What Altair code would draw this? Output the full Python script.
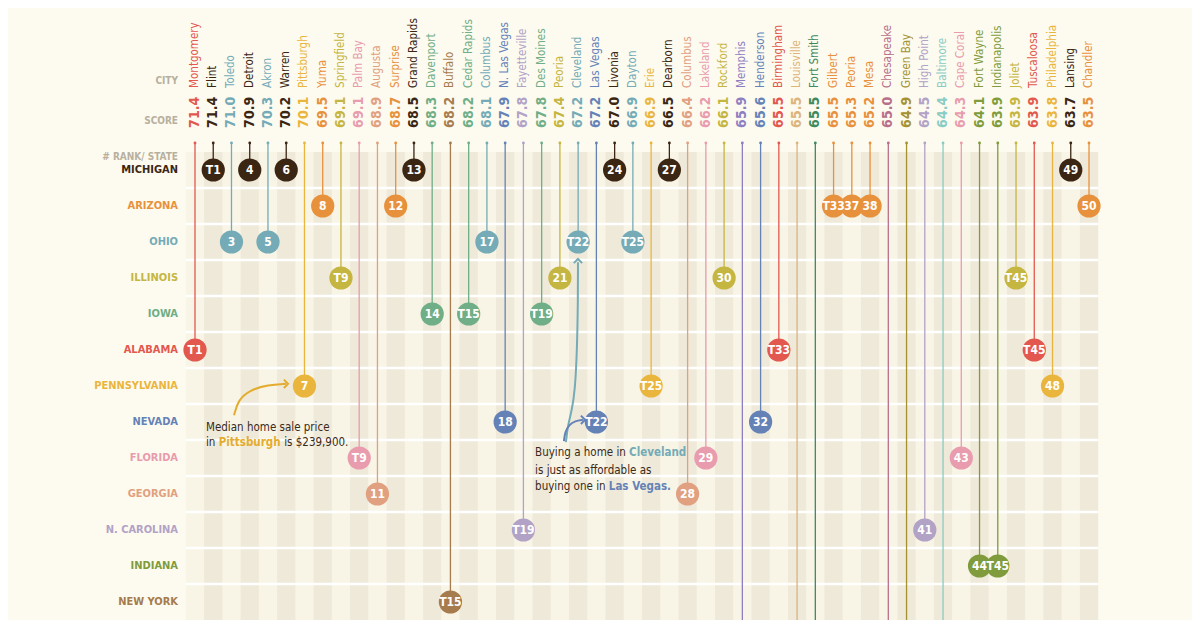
import altair as alt
import pandas as pd

# ---------------- data ----------------
cities = ["Montgomery","Flint","Toledo","Detroit","Akron","Warren","Pittsburgh","Yuma","Springfield","Palm Bay",
          "Augusta","Surprise","Grand Rapids","Davenport","Buffalo","Cedar Rapids","Columbus","N. Las Vegas","Fayetteville","Des Moines",
          "Peoria","Cleveland","Las Vegas","Livonia","Dayton","Erie","Dearborn","Columbus","Lakeland","Rockford",
          "Memphis","Henderson","Birmingham","Louisville","Fort Smith","Gilbert","Peoria","Mesa","Chesapeake","Green Bay",
          "High Point","Baltimore","Cape Coral","Fort Wayne","Indianapolis","Joliet","Tuscaloosa","Philadelphia","Lansing","Chandler"]
city_states = ["AL","MI","OH","MI","OH","MI","PA","AZ","IL","FL",
               "GA","AZ","MI","IA","NY","IA","OH","NV","NC","IA",
               "IL","OH","NV","MI","OH","PA","MI","GA","FL","IL",
               "TN","NV","AL","KY","AR","AZ","AZ","AZ","VA","WI",
               "NC","MD","FL","IN","IN","IL","AL","PA","MI","AZ"]
scores = [71.4,71.4,71.0,70.9,70.3,70.2,70.1,69.5,69.1,69.1,
          68.9,68.7,68.5,68.3,68.2,68.2,68.1,67.9,67.8,67.8,
          67.4,67.2,67.2,67.0,66.9,66.9,66.5,66.4,66.2,66.1,
          65.9,65.6,65.5,65.5,65.5,65.5,65.3,65.2,65.0,64.9,
          64.5,64.4,64.3,64.1,63.9,63.9,63.9,63.8,63.7,63.5]
ranks = ["T1","T1","3","4","5","6","7","8","T9","T9",
         "11","12","13","14","T15","T15","17","18","T19","T19",
         "21","T22","T22","24","T25","T25","27","28","29","30",
         "31","32","T33","T33","T33","T33","37","38","39","40",
         "41","42","43","44","T45","T45","T45","48","49","50"]

state_codes = ["MI","AZ","OH","IL","IA","AL","PA","NV","FL","GA","NC","IN","NY","TN","KY","AR","VA","WI","MD"]
state_names = ["MICHIGAN","ARIZONA","OHIO","ILLINOIS","IOWA","ALABAMA","PENNSYLVANIA","NEVADA","FLORIDA",
               "GEORGIA","N. CAROLINA","INDIANA","NEW YORK","TENNESSEE","KENTUCKY","ARKANSAS","VIRGINIA",
               "WISCONSIN","MARYLAND"]
state_colors = ["#3a2613","#e8913c","#74abb6","#c5b541","#6fae86","#e2584f","#eab53c","#6582b7","#e89cad",
                "#e1a07f","#b2a2c6","#809b3c","#a67b4d","#8d7fc2","#dcb47c","#3f8a5c","#b8708a","#a49232","#88ccc4"]
visible_rows = 13

# annotation arrows (in column / row units)
arrow_ids = ["pitt"]*5 + ["cle"]*7 + ["lv"]*5
arrow_u = [2.14, 2.36, 3.01, 4.0, 4.99,
           20.33, 20.44, 20.66, 20.83, 20.94, 20.99, 20.99,
           20.22, 20.28, 20.50, 20.83, 21.27]
arrow_v = [6.81, 6.39, 6.11, 5.97, 5.94,
           7.56, 7.08, 6.67, 6.11, 5.0, 3.61, 2.56,
           7.53, 7.28, 7.08, 6.97, 6.94]
head_ids = ["pitt", "cle", "lv"]
head_u = [5.10, 20.99, 21.38]
head_v = [5.94, 2.47, 6.94]
head_angle = [0, 270, 0]
arrow_colors = ["#e4ac2e", "#74abb6", "#6582b7"]

# ---------------- frames ----------------
FONT = "DejaVu Sans Condensed, DejaVu Sans, sans-serif"
DARK = "#3a2a1a"
GRAY = "#b8b09e"

row_of = {c: i for i, c in enumerate(state_codes)}
df = pd.DataFrame({"city": cities, "state": city_states, "score": scores, "rank": ranks})
df["u"] = range(len(cities))
df["row"] = df["state"].map(row_of)
df["score_txt"] = df["score"].map(lambda s: f"{s:.1f}")
df["top"] = -0.75
df["name_v"] = -2.28
df["score_v"] = -1.17
vis = df[df["row"] < visible_rows]

n = len(cities)
grid = pd.DataFrame({"u0": [-0.5], "u1": [n - 0.5], "v0": [-0.5], "v1": [visible_rows - 0.5]})
stripes = pd.DataFrame({"u0": [i - 0.5 for i in range(1, n, 2)], "u1": [i + 0.5 for i in range(1, n, 2)]})
stripes["v0"] = -0.5
stripes["v1"] = visible_rows - 0.5
seps = pd.DataFrame({"v": [k + 0.5 for k in range(visible_rows - 1)]})
seps["u0"] = -0.5
seps["u1"] = n - 0.5

states_df = pd.DataFrame({"state": state_codes, "name": state_names, "row": range(len(state_codes))})
states_df = states_df[states_df["row"] < visible_rows].copy()
states_df["u"] = -0.93

xs = alt.Scale(domain=[-10.249, 54.645], nice=False, zero=False)
ys = alt.Scale(domain=[-4.5, 12.5], nice=False, zero=False, reverse=True)
cs = alt.Scale(domain=state_codes, range=state_colors)

def X(f): return alt.X(f, type="quantitative", scale=xs, axis=None)
def Y(f): return alt.Y(f, type="quantitative", scale=ys, axis=None)
col = alt.Color("state:N", scale=cs, legend=None)

bg = alt.Chart(grid).mark_rect(color="#f8f5e7").encode(x=X("u0"), x2="u1", y=Y("v0"), y2="v1")
st = alt.Chart(stripes).mark_rect(color="#efe9d9").encode(x=X("u0"), x2="u1", y=Y("v0"), y2="v1")
sp = alt.Chart(seps).mark_rule(color="#ffffff", strokeWidth=2.5).encode(x=X("u0"), x2="u1", y=Y("v"))

lines = alt.Chart(df).mark_rule(strokeWidth=1.3, clip=True).encode(x=X("u"), y=Y("top"), y2="row", color=col)
dots = alt.Chart(df).mark_circle(size=8, opacity=1).encode(x=X("u"), y=Y("top"), color=col)
circ = alt.Chart(vis).mark_circle(size=540, opacity=1).encode(x=X("u"), y=Y("row"), color=col)
circ_t = alt.Chart(vis).mark_text(font=FONT, fontSize=12, fontWeight="bold", color="white").encode(
    x=X("u"), y=Y("row"), text="rank:N")

names = alt.Chart(df).mark_text(font=FONT, fontSize=11.5, angle=270, align="left", baseline="middle").encode(
    x=X("u"), y=Y("name_v"), text="city:N", color=col)
sc = alt.Chart(df).mark_text(font=FONT, fontSize=14, fontWeight="bold", angle=270, align="left",
                             baseline="middle").encode(x=X("u"), y=Y("score_v"), text="score_txt:N", color=col)

hdr = pd.DataFrame({"t": ["CITY", "SCORE", "# RANK/ STATE"], "u": [-0.93, -0.93, -0.93], "v": [-2.46, -1.375, -0.36]})
hdr_t = alt.Chart(hdr).mark_text(font=FONT, fontSize=10, fontWeight="bold", color=GRAY, align="right",
                                 baseline="middle").encode(x=X("u"), y=Y("v"), text="t:N")
st_t = alt.Chart(states_df).mark_text(font=FONT, fontSize=11, fontWeight="bold", align="right",
                                      baseline="middle").encode(x=X("u"), y=Y("row"), text="name:N", color=col)

# annotation texts
ann = pd.DataFrame({
    "t": ["Median home sale price", "in", "Pittsburgh", "is $239,900.",
          "Buying a home in", "Cleveland", "is just as affordable as", "buying one in", "Las Vegas."],
    "u": [0.603, 0.603, 1.30, 4.89, 18.64, 23.79, 18.64, 18.64, 22.68],
    "v": [7.16, 7.59, 7.59, 7.59, 7.87, 7.87, 8.35, 8.81, 8.81],
    "c": [DARK, DARK, "#e4ac2e", DARK, DARK, "#74abb6", DARK, DARK, "#6582b7"],
    "w": ["normal", "normal", "bold", "normal", "normal", "bold", "normal", "normal", "bold"],
})
ann_n = alt.Chart(ann[ann["w"] == "normal"]).mark_text(font=FONT, fontSize=11.5, align="left", baseline="middle").encode(
    x=X("u"), y=Y("v"), text="t:N", color=alt.Color("c:N", scale=None))
ann_b = alt.Chart(ann[ann["w"] == "bold"]).mark_text(font=FONT, fontSize=11.5, fontWeight="bold", align="left",
                                                     baseline="middle").encode(
    x=X("u"), y=Y("v"), text="t:N", color=alt.Color("c:N", scale=None))

arrows = pd.DataFrame({"id": arrow_ids, "u": arrow_u, "v": arrow_v})
arrows["o"] = range(len(arrows))
arrows["c"] = arrows["id"].map(dict(zip(head_ids, arrow_colors)))
arr = alt.Chart(arrows).mark_line(interpolate="basis", strokeWidth=2).encode(
    x=X("u"), y=Y("v"), order="o:Q", detail="id:N", color=alt.Color("c:N", scale=None))
heads = pd.DataFrame({"id": head_ids, "u": head_u, "v": head_v, "a": head_angle, "c": arrow_colors})
hd = alt.Chart(heads).mark_point(shape="M-1,-1L0,0L-1,1", filled=False, strokeWidth=2, size=70, opacity=1).encode(
    x=X("u"), y=Y("v"), angle=alt.Angle("a:Q", scale=None), color=alt.Color("c:N", scale=None))

chart = alt.layer(bg, st, sp, lines, dots, arr, hd, circ, circ_t, names, sc, hdr_t, st_t, ann_n, ann_b).properties(
    width=1184, height=612, padding=0, autosize=alt.AutoSizeParams(type="none"), background="#fdfbf0"
).configure_view(strokeWidth=0)

chart.save("out.html", embed_options={"renderer": "svg", "actions": False})
